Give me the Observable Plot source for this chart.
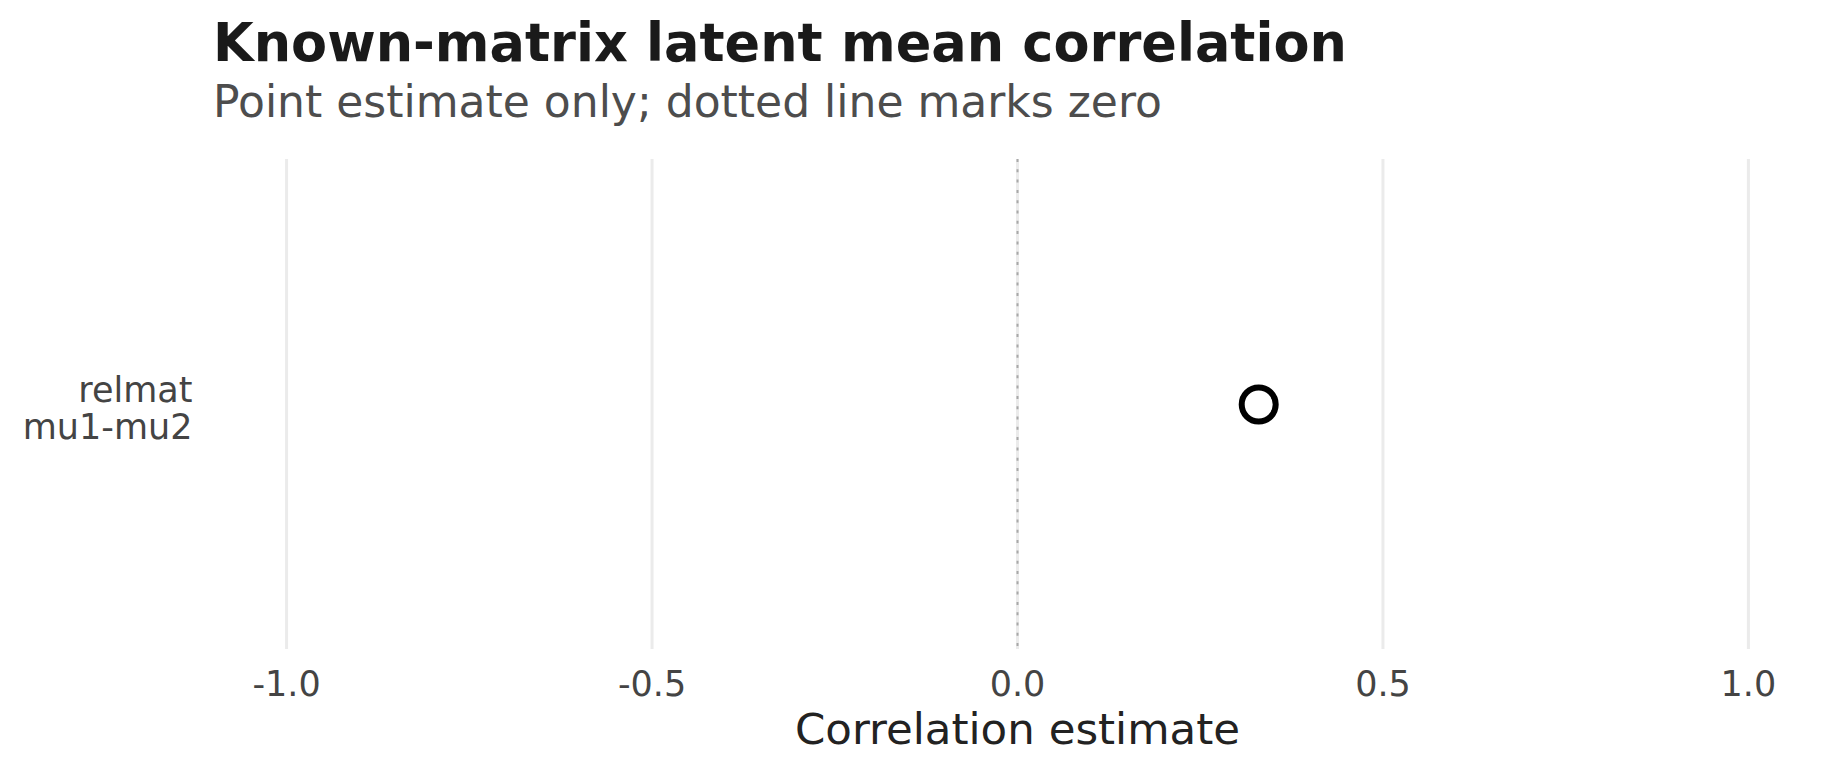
<!DOCTYPE html>
<html>
<head>
<meta charset="utf-8">
<script src="https://cdn.jsdelivr.net/npm/d3@7"></script>
<script src="https://cdn.jsdelivr.net/npm/@observablehq/plot@0.6"></script>
<style>
  html, body { margin: 0; padding: 0; background: #fff; }
  body { width: 1843px; height: 777px; overflow: hidden; font-family: "DejaVu Sans", sans-serif; }
  #title { margin: 13px 0 0 213px; font-size: 52.5px; line-height: 60px; font-weight: bold; color: #1a1a1a; white-space: nowrap; }
  #subtitle { margin: 3px 0 0 213px; font-size: 44px; line-height: 52px; color: #4d4d4d; white-space: nowrap; }
  #chart svg { display: block; }
</style>
</head>
<body>
<div id="title">Known-matrix latent mean correlation</div>
<div id="subtitle">Point estimate only; dotted line marks zero</div>
<div id="chart"></div>
<script>
// Data
const categories = ["relmat\nmu1-mu2"];
const estimates = [0.33];
const xTicks = [-1, -0.5, 0, 0.5, 1];
const xTickLabels = ["-1.0", "-0.5", "0.0", "0.5", "1.0"];
const xLabel = "Correlation estimate";
const referenceLine = [0];

const rows = categories.map((c, i) => ({ term: c, estimate: estimates[i] }));

const plot = Plot.plot({
  width: 1843,
  height: 649,
  marginLeft: 213,
  marginRight: 22,
  marginTop: 31,
  marginBottom: 128,
  style: { fontFamily: "DejaVu Sans, sans-serif", background: "#fff", overflow: "visible" },
  x: { domain: [-1.1, 1.1], axis: null },
  y: { type: "point", domain: categories, axis: null },
  marks: [
    Plot.ruleX(xTicks, { stroke: "#ebebeb", strokeWidth: 3 }),
    Plot.ruleX(referenceLine, { stroke: "#a8a8a8", strokeWidth: 2, strokeDasharray: "3,7.3" }),
    Plot.axisX(xTicks, {
      tickSize: 0, tickPadding: 22, fontSize: 35, fill: "#444",
      tickFormat: (d) => xTickLabels[xTicks.indexOf(d)], label: null
    }),
    Plot.axisY({
      tickSize: 0, tickPadding: 21, fontSize: 35, fill: "#444",
      lineHeight: 1.06, dy: 4, label: null
    }),
    Plot.text([xLabel], {
      x: () => 0, text: (d) => d, frameAnchor: "bottom", lineAnchor: "top",
      dy: 64, fontSize: 43.5, fill: "#222", textAnchor: "middle"
    }),
    Plot.dot(rows, { x: "estimate", y: "term", r: 17, stroke: "#000", strokeWidth: 6, fill: "#fff" })
  ]
});
document.getElementById("chart").appendChild(plot);
</script>
</body>
</html>
